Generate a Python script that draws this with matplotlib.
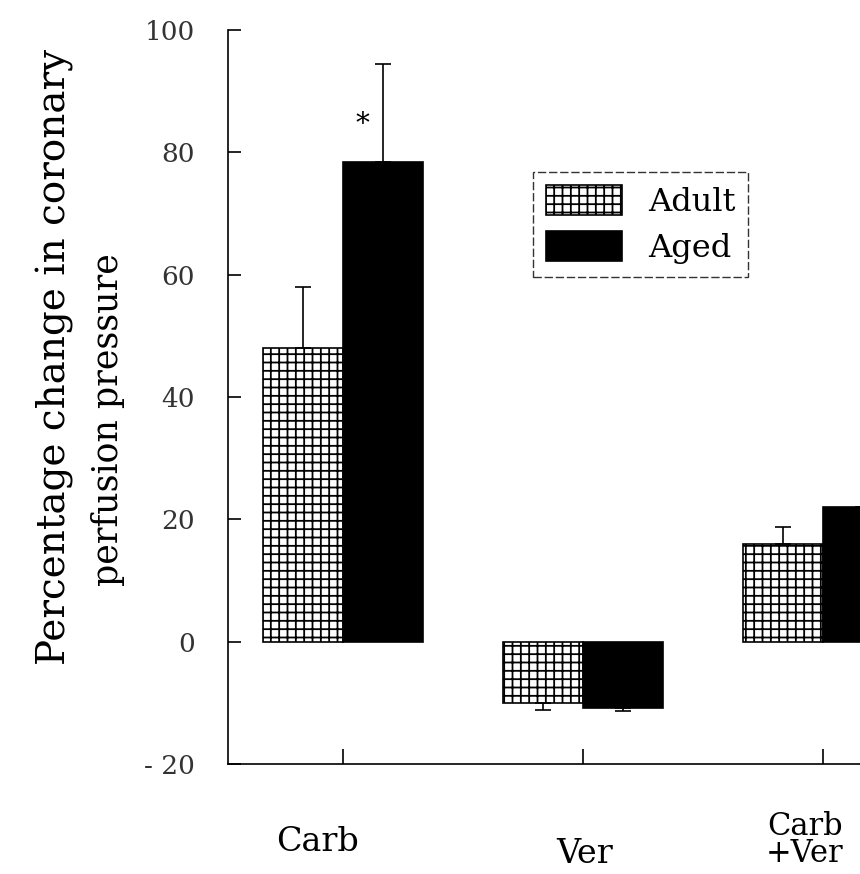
import matplotlib
matplotlib.use("Agg")
import matplotlib.pyplot as plt
import numpy as np

# dados
categorias = ["Carb", "Ver", "Carb\n+Ver"]
adult = [48, -10, 16]
aged = [78.5, -10.8, 22]
adult_err = [10, 1.2, 2.7]
aged_err = [16, 0.5, 0]
yticks = [-20, 0, 20, 40, 60, 80, 100]
ytick_labels = ["- 20", "0", "20", "40", "60", "80", "100"]

plt.rcParams['font.family'] = ['DejaVu Serif']
plt.rcParams['hatch.linewidth'] = 1.3

fig = plt.figure(figsize=(8.6, 8.74), dpi=100)
ax = fig.add_axes([228 / 860, 110 / 874, 1 - 228 / 860, 734 / 874])

x = np.arange(len(categorias))
w = 1 / 3

# barras para cima levam erro para cima, para baixo levam erro para baixo
def erros(vals, errs):
    lo = [e if v < 0 else 0 for v, e in zip(vals, errs)]
    hi = [e if v >= 0 else 0 for v, e in zip(vals, errs)]
    return [lo, hi]

ax.bar(x - w / 2, adult, w, color='white', edgecolor='black', hatch='++',
       linewidth=1.2, label='Adult')
ax.bar(x + w / 2, aged, w, color='black', edgecolor='black', linewidth=1.2,
       label='Aged')
ax.errorbar(x - w / 2, adult, yerr=erros(adult, adult_err), fmt='none',
            ecolor='black', elinewidth=1.2, capsize=5.5, capthick=1.2)
ax.errorbar(x + w / 2, aged, yerr=erros(aged, aged_err), fmt='none',
            ecolor='black', elinewidth=1.2, capsize=5.5, capthick=1.2)

# asterisco de significancia
ax.text(x[0] + 0.08, aged[0] + 6, '*', ha='center', va='center', fontsize=20)

ax.set_xlim(-0.479, 2.154)
ax.set_ylim(-20, 100)

for s in ['top', 'right']:
    ax.spines[s].set_visible(False)
for s in ['left', 'bottom']:
    ax.spines[s].set_linewidth(1.2)

ax.set_yticks(yticks, ytick_labels)
ax.tick_params(axis='y', direction='in', length=9, width=1.2, pad=24,
               labelsize=19, labelcolor='#333333')
ax.set_xticks(x, ['', '', ''])
ax.tick_params(axis='x', direction='in', length=11, width=1.2)

# rotulos das categorias (deslocamento em pixels a partir do eixo)
offs_x = [-25, 2, -18]
offs_y = [-78, -90, -76]
tam = [24, 24, 22]
for i, c in enumerate(categorias):
    ax.annotate(c, xy=(x[i], 0), xycoords=('data', 'axes fraction'),
                xytext=(offs_x[i], offs_y[i]), textcoords='offset pixels',
                ha='center', va='center', fontsize=tam[i], linespacing=0.85)

# rotulo do eixo y em duas linhas
fig.text(55 / 860, 1 - 357 / 874, 'Percentage change in coronary',
         rotation=90, ha='center', va='center', fontsize=28)
fig.text(108 / 860, 1 - 420 / 874, 'perfusion pressure',
         rotation=90, ha='center', va='center', fontsize=25)

leg = ax.legend(loc='upper left', bbox_to_anchor=(533 / 860, 1 - 172 / 874),
                bbox_transform=fig.transFigure, fancybox=False,
                edgecolor='black', fontsize=23, handlelength=2.4,
                handleheight=1.1, borderpad=0.4, labelspacing=0.4,
                handletextpad=0.8, borderaxespad=0)
leg.get_frame().set_linewidth(1.0)
leg.get_frame().set_linestyle((0, (6, 2)))

fig.savefig('out.png', dpi=100)
